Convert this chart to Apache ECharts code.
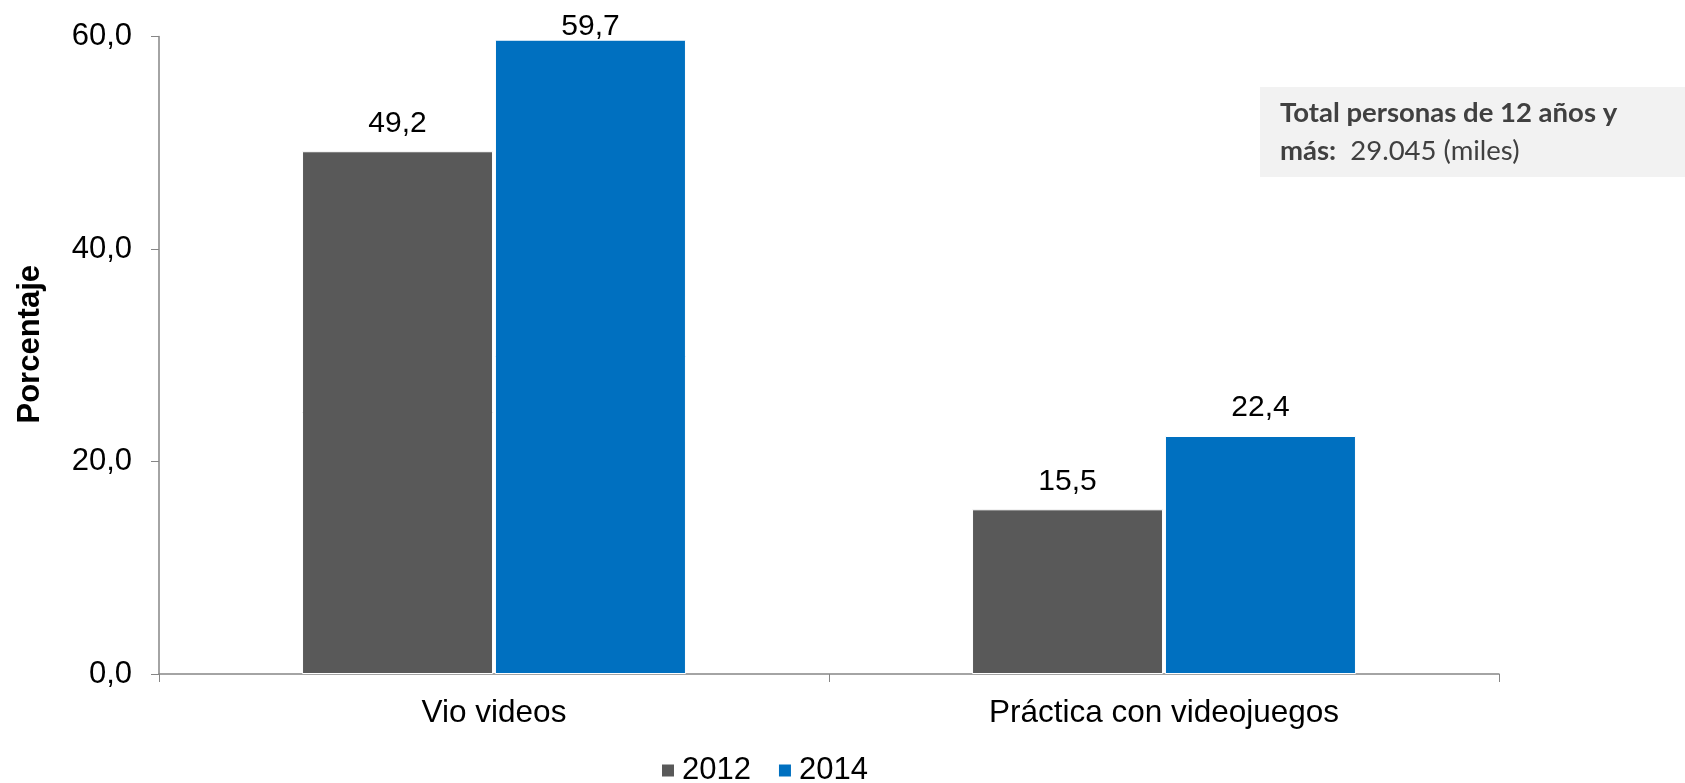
<!DOCTYPE html>
<html><head><meta charset="utf-8">
<script src="https://cdn.jsdelivr.net/npm/echarts@6/dist/echarts.min.js"></script>
<style>html,body{margin:0;padding:0;background:#fff}#c{width:1685px;height:783px}</style>
</head><body><div id="c"></div>
<script>
const categories = ['Vio videos', 'Práctica con videojuegos'];
const years = ['2012', '2014'];
const values2012 = [49.2, 15.5];
const values2014 = [59.7, 22.4];
const yTicks = [0, 20, 40, 60];

const fmt = v => Number(v).toFixed(1).replace('.', ',');
const chart = echarts.init(document.getElementById('c'));
const font = 'Liberation Sans, Arial, sans-serif';
const yMax = yTicks[yTicks.length - 1];
const labelCfg = {show: true, position: 'top', distance: 13, color: '#000', fontSize: 30, fontFamily: font, formatter: p => fmt(p.value)};
// labels of bars reaching the top of the plot are pulled down so they stay inside the chart area
const withLabels = arr => arr.map(v => v > yMax - 3 ? {value: v, label: {distance: -2}} : v);
chart.setOption({
  animation: false,
  grid: {left: 159, right: 186, top: 36.5, bottom: 109},
  legend: {
    data: years, left: 660, top: 755, itemWidth: 14, itemHeight: 14, icon: 'rect', itemGap: 26,
    padding: 0,
    textStyle: {fontSize: 31, fontFamily: font, color: '#000', padding: [0, 0, 0, 2]}
  },
  xAxis: {
    type: 'category', data: categories,
    axisLine: {lineStyle: {color: '#868686', width: 1.5}},
    axisTick: {show: true, length: 8, lineStyle: {color: '#868686'}},
    axisLabel: {fontSize: 31.5, fontFamily: font, color: '#000', margin: 23}
  },
  yAxis: {
    type: 'value', min: yTicks[0], max: yMax, interval: 20,
    name: 'Porcentaje', nameLocation: 'middle', nameGap: 113, nameRotate: 90,
    nameTextStyle: {fontSize: 31, fontWeight: 'bold', fontFamily: font, color: '#000', padding: [0, 0, 0, 22]},
    axisLine: {show: true, lineStyle: {color: '#868686', width: 1.5}},
    axisTick: {show: true, length: 8, lineStyle: {color: '#868686'}},
    splitLine: {show: false},
    axisLabel: {fontSize: 31, fontFamily: font, color: '#000', margin: 27, formatter: v => fmt(v)}
  },
  series: [
    {name: years[0], type: 'bar', data: withLabels(values2012), barWidth: 191, barGap: '1%',
     itemStyle: {color: '#595959', borderColor: '#fff', borderWidth: 1}, label: labelCfg},
    {name: years[1], type: 'bar', data: withLabels(values2014), barWidth: 191,
     itemStyle: {color: '#0070C0', borderColor: '#fff', borderWidth: 1}, label: labelCfg}
  ],
  graphic: [
    {type: 'rect', left: 1260, top: 87, shape: {width: 430, height: 90}, style: {fill: '#F2F2F2'}},
    {type: 'text', left: 1280, top: 99, style: {text: 'Total personas de 12 años y', fontSize: 27.5, fontWeight: 'bold', fontFamily: 'Lato, sans-serif', fill: '#404040'}},
    {type: 'text', left: 1280, top: 137, style: {rich: {b: {fontSize: 27.5, fontWeight: 'bold', fontFamily: 'Lato, sans-serif', fill: '#404040'}, n: {fontSize: 27.5, fontFamily: 'Lato, sans-serif', fill: '#404040'}}, text: '{b|más:}{n|  29.045 (miles)}'}}
  ]
});
</script></body></html>
